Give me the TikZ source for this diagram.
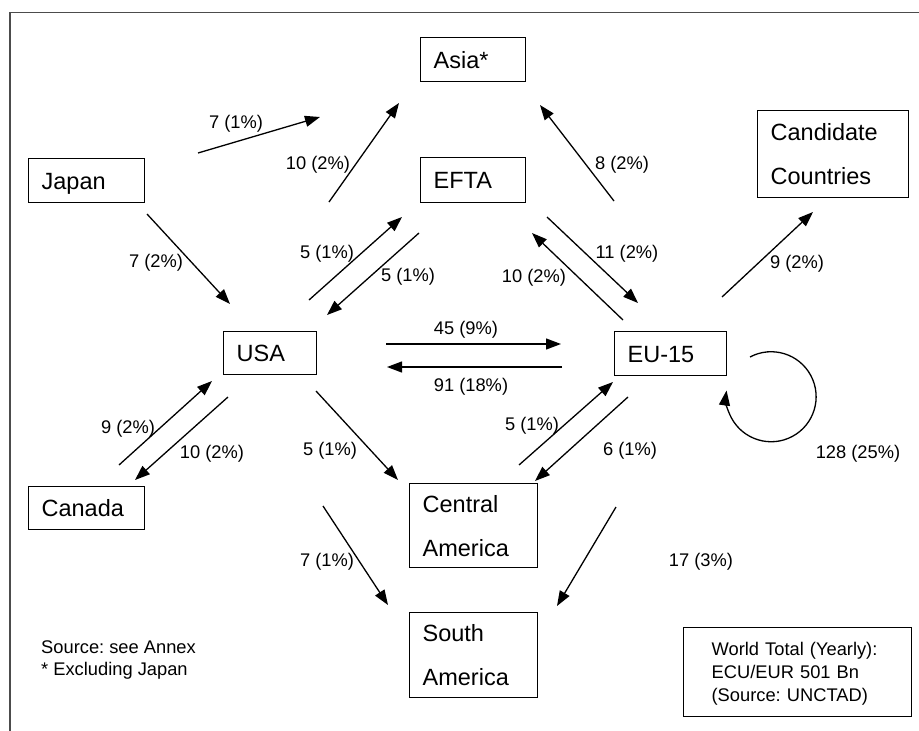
\documentclass[tikz,border=0pt]{standalone}
\usepackage{fontspec}
\setmainfont{Liberation Sans}
\usetikzlibrary{arrows.meta}
\frenchspacing
\begin{document}
\begin{tikzpicture}[x=1pt,y=-1pt,
  box/.style={draw, line width=1.3pt, anchor=north west, inner xsep=13pt, inner ysep=0pt,
    align=left, font=\fontsize{23.5}{44}\selectfont, text height=16.8pt, text depth=0pt},
  twobox/.style={box, text depth=44pt},
  lbl/.style={inner sep=0pt, font=\fontsize{18.3}{22}\selectfont, text height=13.1pt, text depth=0pt},
  flow/.style={line width=1.3pt, -{Triangle[length=15pt,width=11pt]}},
  frameline/.style={line width=1.6pt, black!70}]
\useasboundingbox (0,0) rectangle (919,731);
\coordinate (fr1) at (919,12.5);
\coordinate (fr2) at (10,12.5);
\coordinate (fr3) at (10,731);
\draw[frameline] (fr1) -- (fr2) -- (fr3);

% boxes
\node[box, minimum height=44pt, text width=79pt] (asia) at (420,37) {Asia*};
\node[box, minimum height=45pt, text width=79pt] (efta) at (420,157) {EFTA};
\node[box, minimum height=44pt, text width=90pt] (japan) at (28,158) {Japan};
\node[twobox, minimum height=87pt, text width=125pt] (cand) at (757,110) {Candidate\\Countries};
\node[box, minimum height=43pt, text width=67pt] (usa) at (223,331) {USA};
\node[box, minimum height=44pt, text width=86pt] (eu) at (614,331) {EU-15};
\node[box, minimum height=43pt, text width=90pt] (canada) at (28,486) {Canada};
\node[twobox, minimum height=84pt, text width=102pt] (central) at (409,483) {Central\\America};
\node[twobox, minimum height=85pt, text width=102pt] (south) at (409,612) {South\\America};
\node[box, minimum height=89pt, text width=172pt, inner xsep=28pt,
  font=\fontsize{18.3}{22.8}\selectfont, text height=13.1pt, text depth=45.6pt] (world) at (683,627)
  {World Total (Yearly):\\ECU/EUR 501 Bn\\(Source: UNCTAD)};
\node[lbl, anchor=north west, align=left, font=\fontsize{18.3}{21.7}\selectfont] (notes) at (41,661.8)
  {Source: see Annex\\* Excluding Japan};

% arrow end points
\coordinate (a1s) at (198,153);  \coordinate (a1e) at (320,117);
\coordinate (a2s) at (329,202);  \coordinate (a2e) at (399,103);
\coordinate (a3s) at (147,214);  \coordinate (a3e) at (230,304);
\coordinate (a4s) at (309,300);  \coordinate (a4e) at (402,217);
\coordinate (a5s) at (419,233);  \coordinate (a5e) at (327,315);
\coordinate (a6s) at (614,201);  \coordinate (a6e) at (540,105);
\coordinate (a7s) at (547,217);  \coordinate (a7e) at (638,303);
\coordinate (a8s) at (623,320);  \coordinate (a8e) at (532,233);
\coordinate (a9s) at (722,297);  \coordinate (a9e) at (813,212);
\coordinate (a10s) at (386,344); \coordinate (a10e) at (561,344);
\coordinate (a11s) at (562,367); \coordinate (a11e) at (387,367);
\coordinate (a12s) at (316,391); \coordinate (a12e) at (398,480);
\coordinate (a13s) at (519,465); \coordinate (a13e) at (613,382);
\coordinate (a14s) at (628,397); \coordinate (a14e) at (535,481);
\coordinate (a15s) at (119,465); \coordinate (a15e) at (212,381);
\coordinate (a16s) at (228,397); \coordinate (a16e) at (135,480);
\coordinate (a17s) at (323,506); \coordinate (a17e) at (388,605);
\coordinate (a18s) at (616,507); \coordinate (a18e) at (557,606);
\coordinate (loops) at (750,357);

\draw[flow] (a1s) -- (a1e);
\draw[flow] (a2s) -- (a2e);
\draw[flow] (a3s) -- (a3e);
\draw[flow] (a4s) -- (a4e);
\draw[flow] (a5s) -- (a5e);
\draw[flow] (a6s) -- (a6e);
\draw[flow] (a7s) -- (a7e);
\draw[flow] (a8s) -- (a8e);
\draw[flow] (a9s) -- (a9e);
\draw[flow] (a10s) -- (a10e);
\draw[flow] (a11s) -- (a11e);
\draw[flow] (a12s) -- (a12e);
\draw[flow] (a13s) -- (a13e);
\draw[flow] (a14s) -- (a14e);
\draw[flow] (a15s) -- (a15e);
\draw[flow] (a16s) -- (a16e);
\draw[flow] (a17s) -- (a17e);
\draw[flow] (a18s) -- (a18e);
\draw[flow] (loops) arc[start angle=-118, end angle=188, radius=45];

% labels
\node[lbl] (l1) at (236,122) {7 (1\%)};
\node[lbl] (l2) at (318,163) {10 (2\%)};
\node[lbl] (l3) at (156,261) {7 (2\%)};
\node[lbl] (l4) at (327,252) {5 (1\%)};
\node[lbl] (l5) at (408,275) {5 (1\%)};
\node[lbl] (l6) at (622,163) {8 (2\%)};
\node[lbl] (l7) at (627,252) {11 (2\%)};
\node[lbl] (l8) at (534,276) {10 (2\%)};
\node[lbl] (l9) at (797,262) {9 (2\%)};
\node[lbl] (l10) at (466,328) {45 (9\%)};
\node[lbl] (l11) at (471,385) {91 (18\%)};
\node[lbl] (l12) at (330,449) {5 (1\%)};
\node[lbl] (l13) at (532,424) {5 (1\%)};
\node[lbl] (l14) at (630,449) {6 (1\%)};
\node[lbl] (l15) at (858,452) {128 (25\%)};
\node[lbl] (l16) at (128,427) {9 (2\%)};
\node[lbl] (l17) at (212,452) {10 (2\%)};
\node[lbl] (l18) at (327,560) {7 (1\%)};
\node[lbl] (l19) at (701,560) {17 (3\%)};
\end{tikzpicture}
\end{document}
